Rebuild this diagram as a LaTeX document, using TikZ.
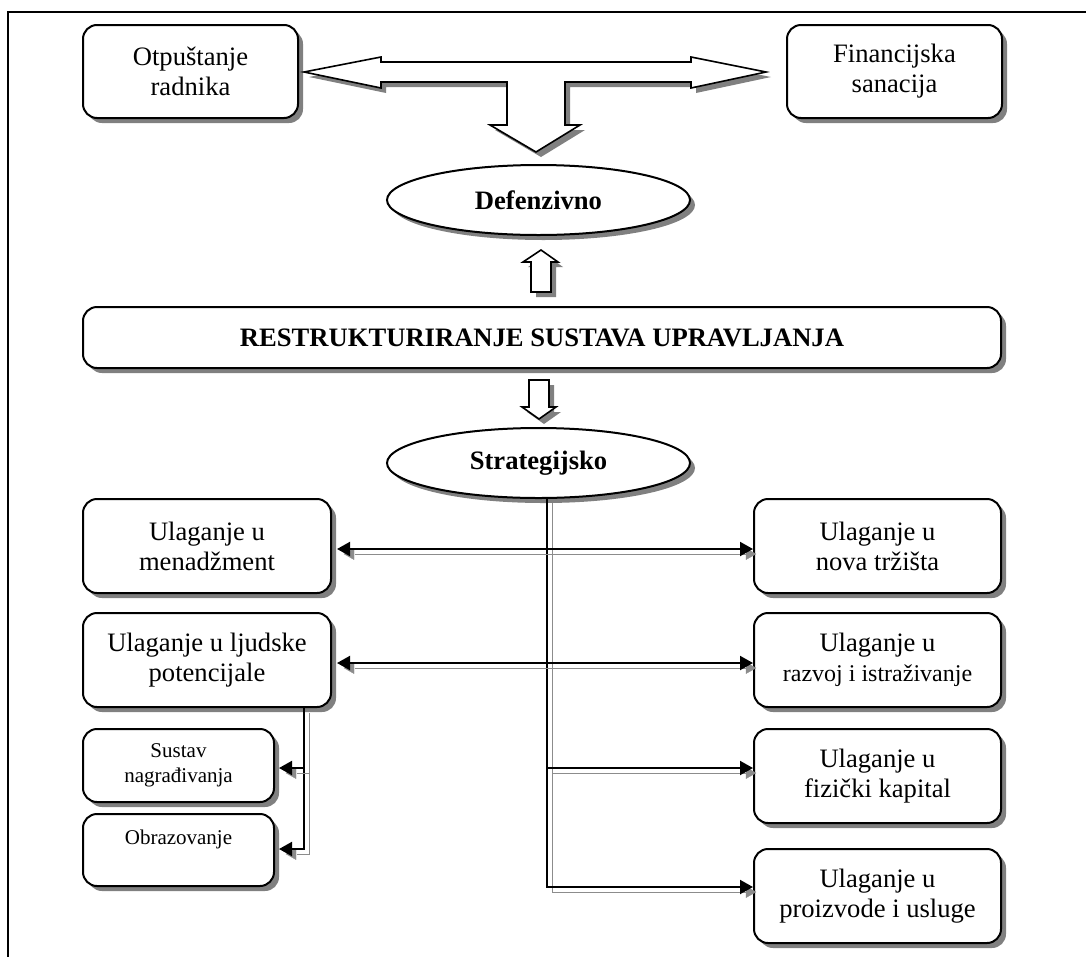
\documentclass[tikz,border=0pt]{standalone}
\usepackage{fontspec}
\setmainfont{Liberation Serif}
\usetikzlibrary{shadows,arrows.meta,calc,shapes.geometric}
\tikzset{
  shad/.style={drop shadow={shadow xshift=5pt, shadow yshift=-5pt, fill=black!50, opacity=1}},
  box/.style={draw, line width=2pt, rounded corners=14pt, fill=white, align=center, inner sep=0pt, shad},
  oval/.style={ellipse, draw, line width=2pt, fill=white, inner sep=0pt, shad, minimum width=303pt, minimum height=70pt, font=\bfseries\fontsize{26.6}{30}\selectfont},
  big/.style={font=\fontsize{26.6}{30}\selectfont},
  small/.style={font=\fontsize{21}{25}\selectfont},
  wide/.style={minimum width=215pt, minimum height=93pt},
  mid/.style={minimum width=248pt, minimum height=94pt},
  subbox/.style={minimum width=191pt, minimum height=73pt},
  blockarrow/.style={draw, line width=1.6pt, fill=white, shad, line join=miter},
  conn/.style={line width=2pt, -{Triangle[length=13pt,width=14pt]},
    preaction={draw=black!45, transform canvas={shift={(5pt,-5pt)}}}},
  connboth/.style={conn, {Triangle[length=13pt,width=14pt]}-{Triangle[length=13pt,width=14pt]}},
}
\begin{document}
\begin{tikzpicture}[x=1pt,y=-1pt]
\useasboundingbox (0,0) rectangle (1086,956);
\draw[line width=1.3pt] (8,970) -- (8,12) -- (1095,12);

% top row
\node[box, big, wide] (otp) at (190.5,71.5) {Otpuštanje\\radnika};
\node[box, big, wide] (fin) at (894.5,71.5) {Financijska\\sanacija};

% T block arrow
\path[blockarrow] (304,72) -- (381,57) -- (381,62) -- (691,62) -- (691,57) -- (766,72)
  -- (691,88) -- (691,82) -- (565,82) -- (565,125) -- (580,125) -- (536,152)
  -- (490,125) -- (507,125) -- (507,82) -- (381,82) -- (381,88) -- cycle;

\node[oval] (def) at (538.5,200) {Defenzivno};

% up block arrow
\path[blockarrow] (541,250) -- (558,262) -- (551,262) -- (551,292) -- (531,292)
  -- (531,262) -- (523,262) -- cycle;

\node[box, minimum width=918pt, minimum height=61pt, font=\bfseries\fontsize{26.6}{30}\selectfont]
  (res) at (542,337.5) {RESTRUKTURIRANJE SUSTAVA UPRAVLJANJA};

% down block arrow
\path[blockarrow] (529,380) -- (549,380) -- (549,407) -- (556,407) -- (539,419)
  -- (522,407) -- (529,407) -- cycle;

\node[oval] (str) at (538.5,463) {Strategijsko};

% left column
\node[box, big, mid] (men) at (207,546) {Ulaganje u\\menadžment};
\node[box, big, mid] (lju) at (207,660) {Ulaganje u ljudske\\potencijale};
\node[box, small, subbox] (sus) at (178.5,765.5) {Sustav\\nagrađivanja};
\node[box, small, subbox, minimum height=72pt] (obr) at (178.5,850) {Obrazovanje\\\mbox{}};

% right column
\node[box, big, mid, minimum width=247pt] (nov) at (877.5,546) {Ulaganje u\\nova tržišta};
\node[box, big, mid, minimum width=247pt] (raz) at (877.5,660) {Ulaganje u\\{\fontsize{24}{30}\selectfont razvoj i istraživanje}};
\node[box, big, mid, minimum width=247pt] (fiz) at (877.5,776) {Ulaganje u\\fizički kapital};
\node[box, big, mid, minimum width=247pt] (pro) at (877.5,896) {Ulaganje u\\proizvode i usluge};

% connectors
\coordinate (tx) at (547,0);
\coordinate (lx) at (304,0);
\draw[conn] ($(str.south -| tx)+(0,-1)$) |- ($(pro.west)+(0,-9)$);
\draw[conn] ($(fiz.west -| tx)+(0,-8)$) -- ($(fiz.west)+(0,-8)$);
\draw[connboth] ($(men.east)+(5,3)$) -- ($(nov.west)+(0,3)$);
\draw[connboth] ($(lju.east)+(5,3)$) -- ($(raz.west)+(0,3)$);
\draw[conn] (lju.south -| lx) |- ($(obr.east)+(4,-1)$);
\draw[conn] ($(sus.east -| lx)+(0,2.5)$) -- ($(sus.east)+(4,2.5)$);
\end{tikzpicture}
\end{document}
